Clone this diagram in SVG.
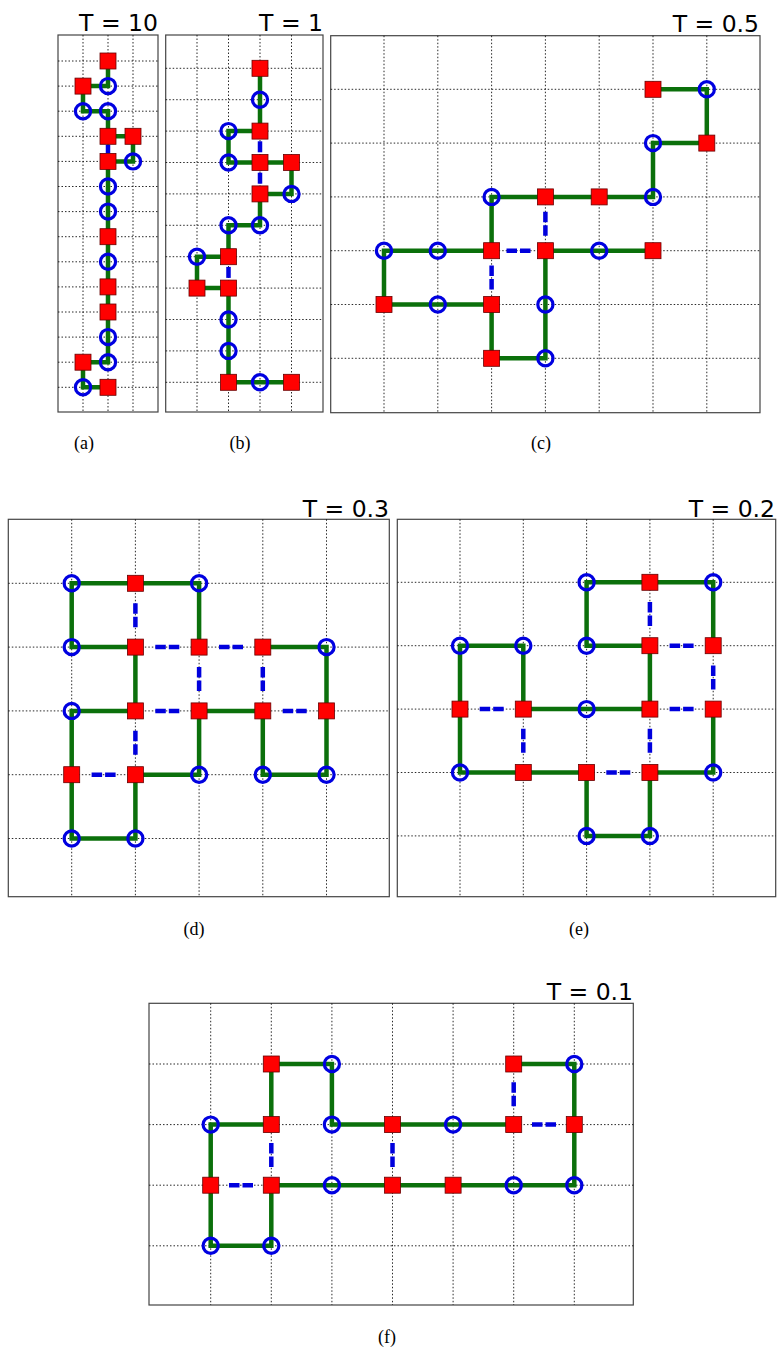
<svg xmlns="http://www.w3.org/2000/svg" width="780" height="1352" viewBox="0 0 780 1352">
<style>
.frame{fill:#fff;stroke:#444;stroke-width:1.2}
.grid{fill:none;stroke:#111;stroke-width:0.9;stroke-dasharray:1.5 2}
.chain{fill:none;stroke:#0b700b;stroke-width:4.5;stroke-linejoin:miter}
.contact{stroke:#0000dd;stroke-width:4.5;stroke-dasharray:10.5 3}
.cs{stroke:#0000dd;stroke-width:4.5}
.H{fill:#f00;stroke:#600;stroke-width:0.8}
.P{fill:none;stroke:#0000e0;stroke-width:3.2}
.tl{font-family:"DejaVu Sans",sans-serif;font-size:23.5px;text-anchor:end;fill:#000}
.sub{font-family:"Liberation Serif",serif;font-size:18px;text-anchor:middle;fill:#000}
</style>
<rect width="780" height="1352" fill="#fff"/>

<!-- Panel (a) -->
<g id="panel-a">
<rect class="frame" x="58" y="35" width="100" height="377"/>
<path class="grid" d="M83 35V412M108 35V412M133 35V412M58 61H158M58 86.1H158M58 111.2H158M58 136.3H158M58 161.4H158M58 186.5H158M58 211.6H158M58 236.7H158M58 261.8H158M58 286.9H158M58 312H158M58 337.1H158M58 362.2H158M58 387.3H158"/>
<text class="tl" x="158" y="31">T = 10</text>
<text class="sub" x="84" y="449">(a)</text>
<g id="a-connectors">
<polyline class="chain" points="108,61 108,86.1 83,86.1 83,111.2 108,111.2 108,136.3 133,136.3 133,161.4 108,161.4 108,186.5 108,211.6 108,236.7 108,261.8 108,286.9 108,312 108,337.1 108,362.2 83,362.2 83,387.3 108,387.3"/>
<line class="cs" x1="108" y1="144.6" x2="108" y2="153.1"/>
</g>
<g id="a-nodes">
<g id="a1"><rect class="H" x="100" y="53" width="16" height="16"/></g>
<g id="a2"><circle class="P" cx="108" cy="86.1" r="7.6"/></g>
<g id="a3"><rect class="H" x="75" y="78.1" width="16" height="16"/></g>
<g id="a4"><circle class="P" cx="83" cy="111.2" r="7.6"/></g>
<g id="a5"><circle class="P" cx="108" cy="111.2" r="7.6"/></g>
<g id="a6"><rect class="H" x="100" y="128.3" width="16" height="16"/></g>
<g id="a7"><rect class="H" x="125" y="128.3" width="16" height="16"/></g>
<g id="a8"><circle class="P" cx="133" cy="161.4" r="7.6"/></g>
<g id="a9"><rect class="H" x="100" y="153.4" width="16" height="16"/></g>
<g id="a10"><circle class="P" cx="108" cy="186.5" r="7.6"/></g>
<g id="a11"><circle class="P" cx="108" cy="211.6" r="7.6"/></g>
<g id="a12"><rect class="H" x="100" y="228.7" width="16" height="16"/></g>
<g id="a13"><circle class="P" cx="108" cy="261.8" r="7.6"/></g>
<g id="a14"><rect class="H" x="100" y="278.9" width="16" height="16"/></g>
<g id="a15"><rect class="H" x="100" y="304" width="16" height="16"/></g>
<g id="a16"><circle class="P" cx="108" cy="337.1" r="7.6"/></g>
<g id="a17"><circle class="P" cx="108" cy="362.2" r="7.6"/></g>
<g id="a18"><rect class="H" x="75" y="354.2" width="16" height="16"/></g>
<g id="a19"><circle class="P" cx="83" cy="387.3" r="7.6"/></g>
<g id="a20"><rect class="H" x="100" y="379.3" width="16" height="16"/></g>
</g>
</g>

<!-- Panel (b) -->
<g id="panel-b">
<rect class="frame" x="165.7" y="35" width="157.3" height="377"/>
<path class="grid" d="M197 35V412M228.5 35V412M260 35V412M291.5 35V412M165.7 68.3H323M165.7 99.7H323M165.7 131.1H323M165.7 162.5H323M165.7 193.9H323M165.7 225.3H323M165.7 256.7H323M165.7 288.1H323M165.7 319.5H323M165.7 350.9H323M165.7 382.3H323"/>
<text class="tl" x="323" y="31">T = 1</text>
<text class="sub" x="240" y="449">(b)</text>
<g id="b-connectors">
<polyline class="chain" points="260,68.3 260,99.7 260,131.1 228.5,131.1 228.5,162.5 260,162.5 291.5,162.5 291.5,193.9 260,193.9 260,225.3 228.5,225.3 228.5,256.7 197,256.7 197,288.1 228.5,288.1 228.5,319.5 228.5,350.9 228.5,382.3 260,382.3 291.5,382.3"/>
<line class="cs" x1="260" y1="141.3" x2="260" y2="152.3"/>
<line class="cs" x1="260" y1="172.7" x2="260" y2="183.7"/>
<line class="cs" x1="228.5" y1="266.9" x2="228.5" y2="277.9"/>
</g>
<g id="b-nodes">
<g id="b1"><rect class="H" x="252" y="60.3" width="16" height="16"/></g>
<g id="b2"><circle class="P" cx="260" cy="99.7" r="7.6"/></g>
<g id="b3"><rect class="H" x="252" y="123.1" width="16" height="16"/></g>
<g id="b4"><circle class="P" cx="228.5" cy="131.1" r="7.6"/></g>
<g id="b5"><circle class="P" cx="228.5" cy="162.5" r="7.6"/></g>
<g id="b6"><rect class="H" x="252" y="154.5" width="16" height="16"/></g>
<g id="b7"><rect class="H" x="283.5" y="154.5" width="16" height="16"/></g>
<g id="b8"><circle class="P" cx="291.5" cy="193.9" r="7.6"/></g>
<g id="b9"><rect class="H" x="252" y="185.9" width="16" height="16"/></g>
<g id="b10"><circle class="P" cx="260" cy="225.3" r="7.6"/></g>
<g id="b11"><circle class="P" cx="228.5" cy="225.3" r="7.6"/></g>
<g id="b12"><rect class="H" x="220.5" y="248.7" width="16" height="16"/></g>
<g id="b13"><circle class="P" cx="197" cy="256.7" r="7.6"/></g>
<g id="b14"><rect class="H" x="189" y="280.1" width="16" height="16"/></g>
<g id="b15"><rect class="H" x="220.5" y="280.1" width="16" height="16"/></g>
<g id="b16"><circle class="P" cx="228.5" cy="319.5" r="7.6"/></g>
<g id="b17"><circle class="P" cx="228.5" cy="350.9" r="7.6"/></g>
<g id="b18"><rect class="H" x="220.5" y="374.3" width="16" height="16"/></g>
<g id="b19"><circle class="P" cx="260" cy="382.3" r="7.6"/></g>
<g id="b20"><rect class="H" x="283.5" y="374.3" width="16" height="16"/></g>
</g>
</g>

<!-- Panel (c) -->
<g id="panel-c">
<rect class="frame" x="330.7" y="35.7" width="429.3" height="377"/>
<path class="grid" d="M384 35.7V412.7M437.8 35.7V412.7M491.6 35.7V412.7M545.4 35.7V412.7M599.2 35.7V412.7M653 35.7V412.7M706.8 35.7V412.7M330.7 89.3H760M330.7 143.1H760M330.7 196.9H760M330.7 250.7H760M330.7 304.5H760M330.7 358.3H760"/>
<text class="tl" x="759" y="32">T = 0.5</text>
<text class="sub" x="541" y="449">(c)</text>
<g id="c-connectors">
<polyline class="chain" points="653,89.3 706.8,89.3 706.8,143.1 653,143.1 653,196.9 599.2,196.9 545.4,196.9 491.6,196.9 491.6,250.7 437.8,250.7 384,250.7 384,304.5 437.8,304.5 491.6,304.5 491.6,358.3 545.4,358.3 545.4,304.5 545.4,250.7 599.2,250.7 653,250.7"/>
<line class="contact" x1="545.4" y1="211.8" x2="545.4" y2="235.8"/>
<line class="contact" x1="506.5" y1="250.7" x2="530.5" y2="250.7"/>
<line class="contact" x1="491.6" y1="265.6" x2="491.6" y2="289.6"/>
</g>
<g id="c-nodes">
<g id="c1"><rect class="H" x="645" y="81.3" width="16" height="16"/></g>
<g id="c2"><circle class="P" cx="706.8" cy="89.3" r="7.6"/></g>
<g id="c3"><rect class="H" x="698.8" y="135.1" width="16" height="16"/></g>
<g id="c4"><circle class="P" cx="653" cy="143.1" r="7.6"/></g>
<g id="c5"><circle class="P" cx="653" cy="196.9" r="7.6"/></g>
<g id="c6"><rect class="H" x="591.2" y="188.9" width="16" height="16"/></g>
<g id="c7"><rect class="H" x="537.4" y="188.9" width="16" height="16"/></g>
<g id="c8"><circle class="P" cx="491.6" cy="196.9" r="7.6"/></g>
<g id="c9"><rect class="H" x="483.6" y="242.7" width="16" height="16"/></g>
<g id="c10"><circle class="P" cx="437.8" cy="250.7" r="7.6"/></g>
<g id="c11"><circle class="P" cx="384" cy="250.7" r="7.6"/></g>
<g id="c12"><rect class="H" x="376" y="296.5" width="16" height="16"/></g>
<g id="c13"><circle class="P" cx="437.8" cy="304.5" r="7.6"/></g>
<g id="c14"><rect class="H" x="483.6" y="296.5" width="16" height="16"/></g>
<g id="c15"><rect class="H" x="483.6" y="350.3" width="16" height="16"/></g>
<g id="c16"><circle class="P" cx="545.4" cy="358.3" r="7.6"/></g>
<g id="c17"><circle class="P" cx="545.4" cy="304.5" r="7.6"/></g>
<g id="c18"><rect class="H" x="537.4" y="242.7" width="16" height="16"/></g>
<g id="c19"><circle class="P" cx="599.2" cy="250.7" r="7.6"/></g>
<g id="c20"><rect class="H" x="645" y="242.7" width="16" height="16"/></g>
</g>
</g>

<!-- Panel (d) -->
<g id="panel-d">
<rect class="frame" x="8.3" y="519.3" width="381" height="377.4"/>
<path class="grid" d="M71.7 519.3V896.7M135.4 519.3V896.7M199.1 519.3V896.7M262.8 519.3V896.7M326.5 519.3V896.7M8.3 583.3H389.3M8.3 647.1H389.3M8.3 710.9H389.3M8.3 774.7H389.3M8.3 838.5H389.3"/>
<text class="tl" x="389" y="516.5">T = 0.3</text>
<text class="sub" x="194" y="935">(d)</text>
<g id="d-connectors">
<polyline class="chain" points="199.1,647.1 199.1,583.3 135.4,583.3 71.7,583.3 71.7,647.1 135.4,647.1 135.4,710.9 71.7,710.9 71.7,774.7 71.7,838.5 135.4,838.5 135.4,774.7 199.1,774.7 199.1,710.9 262.8,710.9 262.8,774.7 326.5,774.7 326.5,710.9 326.5,647.1 262.8,647.1"/>
<line class="contact" x1="135.4" y1="603.2" x2="135.4" y2="627.2"/>
<line class="contact" x1="155.3" y1="647.1" x2="179.3" y2="647.1"/>
<line class="contact" x1="219" y1="647.1" x2="243" y2="647.1"/>
<line class="contact" x1="199.1" y1="667" x2="199.1" y2="691"/>
<line class="contact" x1="262.8" y1="667" x2="262.8" y2="691"/>
<line class="contact" x1="155.3" y1="710.9" x2="179.3" y2="710.9"/>
<line class="contact" x1="282.7" y1="710.9" x2="306.7" y2="710.9"/>
<line class="contact" x1="135.4" y1="730.8" x2="135.4" y2="754.8"/>
<line class="contact" x1="91.6" y1="774.7" x2="115.6" y2="774.7"/>
</g>
<g id="d-nodes">
<g id="d1"><rect class="H" x="191.1" y="639.1" width="16" height="16"/></g>
<g id="d2"><circle class="P" cx="199.1" cy="583.3" r="7.6"/></g>
<g id="d3"><rect class="H" x="127.4" y="575.3" width="16" height="16"/></g>
<g id="d4"><circle class="P" cx="71.7" cy="583.3" r="7.6"/></g>
<g id="d5"><circle class="P" cx="71.7" cy="647.1" r="7.6"/></g>
<g id="d6"><rect class="H" x="127.4" y="639.1" width="16" height="16"/></g>
<g id="d7"><rect class="H" x="127.4" y="702.9" width="16" height="16"/></g>
<g id="d8"><circle class="P" cx="71.7" cy="710.9" r="7.6"/></g>
<g id="d9"><rect class="H" x="63.7" y="766.7" width="16" height="16"/></g>
<g id="d10"><circle class="P" cx="71.7" cy="838.5" r="7.6"/></g>
<g id="d11"><circle class="P" cx="135.4" cy="838.5" r="7.6"/></g>
<g id="d12"><rect class="H" x="127.4" y="766.7" width="16" height="16"/></g>
<g id="d13"><circle class="P" cx="199.1" cy="774.7" r="7.6"/></g>
<g id="d14"><rect class="H" x="191.1" y="702.9" width="16" height="16"/></g>
<g id="d15"><rect class="H" x="254.8" y="702.9" width="16" height="16"/></g>
<g id="d16"><circle class="P" cx="262.8" cy="774.7" r="7.6"/></g>
<g id="d17"><circle class="P" cx="326.5" cy="774.7" r="7.6"/></g>
<g id="d18"><rect class="H" x="318.5" y="702.9" width="16" height="16"/></g>
<g id="d19"><circle class="P" cx="326.5" cy="647.1" r="7.6"/></g>
<g id="d20"><rect class="H" x="254.8" y="639.1" width="16" height="16"/></g>
</g>
</g>

<!-- Panel (e) -->
<g id="panel-e">
<rect class="frame" x="397.3" y="519.3" width="378.4" height="377.4"/>
<path class="grid" d="M460 519.3V896.7M523.3 519.3V896.7M586.6 519.3V896.7M649.9 519.3V896.7M713.2 519.3V896.7M397.3 582.3H775.7M397.3 645.7H775.7M397.3 709.1H775.7M397.3 772.5H775.7M397.3 835.9H775.7"/>
<text class="tl" x="775" y="516.5">T = 0.2</text>
<text class="sub" x="579" y="935">(e)</text>
<g id="e-connectors">
<polyline class="chain" points="713.2,645.7 713.2,582.3 649.9,582.3 586.6,582.3 586.6,645.7 649.9,645.7 649.9,709.1 586.6,709.1 523.3,709.1 523.3,645.7 460,645.7 460,709.1 460,772.5 523.3,772.5 586.6,772.5 586.6,835.9 649.9,835.9 649.9,772.5 713.2,772.5 713.2,709.1"/>
<line class="contact" x1="649.9" y1="602" x2="649.9" y2="626"/>
<line class="contact" x1="669.6" y1="645.7" x2="693.6" y2="645.7"/>
<line class="contact" x1="713.2" y1="665.4" x2="713.2" y2="689.4"/>
<line class="contact" x1="479.7" y1="709.1" x2="503.7" y2="709.1"/>
<line class="contact" x1="669.6" y1="709.1" x2="693.6" y2="709.1"/>
<line class="contact" x1="523.3" y1="728.8" x2="523.3" y2="752.8"/>
<line class="contact" x1="649.9" y1="728.8" x2="649.9" y2="752.8"/>
<line class="contact" x1="606.3" y1="772.5" x2="630.3" y2="772.5"/>
</g>
<g id="e-nodes">
<g id="e1"><rect class="H" x="705.2" y="637.7" width="16" height="16"/></g>
<g id="e2"><circle class="P" cx="713.2" cy="582.3" r="7.6"/></g>
<g id="e3"><rect class="H" x="641.9" y="574.3" width="16" height="16"/></g>
<g id="e4"><circle class="P" cx="586.6" cy="582.3" r="7.6"/></g>
<g id="e5"><circle class="P" cx="586.6" cy="645.7" r="7.6"/></g>
<g id="e6"><rect class="H" x="641.9" y="637.7" width="16" height="16"/></g>
<g id="e7"><rect class="H" x="641.9" y="701.1" width="16" height="16"/></g>
<g id="e8"><circle class="P" cx="586.6" cy="709.1" r="7.6"/></g>
<g id="e9"><rect class="H" x="515.3" y="701.1" width="16" height="16"/></g>
<g id="e10"><circle class="P" cx="523.3" cy="645.7" r="7.6"/></g>
<g id="e11"><circle class="P" cx="460" cy="645.7" r="7.6"/></g>
<g id="e12"><rect class="H" x="452" y="701.1" width="16" height="16"/></g>
<g id="e13"><circle class="P" cx="460" cy="772.5" r="7.6"/></g>
<g id="e14"><rect class="H" x="515.3" y="764.5" width="16" height="16"/></g>
<g id="e15"><rect class="H" x="578.6" y="764.5" width="16" height="16"/></g>
<g id="e16"><circle class="P" cx="586.6" cy="835.9" r="7.6"/></g>
<g id="e17"><circle class="P" cx="649.9" cy="835.9" r="7.6"/></g>
<g id="e18"><rect class="H" x="641.9" y="764.5" width="16" height="16"/></g>
<g id="e19"><circle class="P" cx="713.2" cy="772.5" r="7.6"/></g>
<g id="e20"><rect class="H" x="705.2" y="701.1" width="16" height="16"/></g>
</g>
</g>

<!-- Panel (f) -->
<g id="panel-f">
<rect class="frame" x="149" y="1003.3" width="484.3" height="301.7"/>
<path class="grid" d="M210.7 1003.3V1305M271.3 1003.3V1305M331.9 1003.3V1305M392.5 1003.3V1305M453.1 1003.3V1305M513.7 1003.3V1305M574.3 1003.3V1305M149 1064H633.3M149 1124.6H633.3M149 1185.2H633.3M149 1245.8H633.3"/>
<text class="tl" x="633" y="1000">T = 0.1</text>
<text class="sub" x="387" y="1343">(f)</text>
<g id="f-connectors">
<polyline class="chain" points="513.7,1064 574.3,1064 574.3,1124.6 574.3,1185.2 513.7,1185.2 453.1,1185.2 392.5,1185.2 331.9,1185.2 271.3,1185.2 271.3,1245.8 210.7,1245.8 210.7,1185.2 210.7,1124.6 271.3,1124.6 271.3,1064 331.9,1064 331.9,1124.6 392.5,1124.6 453.1,1124.6 513.7,1124.6"/>
<line class="contact" x1="513.7" y1="1082.3" x2="513.7" y2="1106.3"/>
<line class="contact" x1="532" y1="1124.6" x2="556" y2="1124.6"/>
<line class="contact" x1="271.3" y1="1142.9" x2="271.3" y2="1166.9"/>
<line class="contact" x1="392.5" y1="1142.9" x2="392.5" y2="1166.9"/>
<line class="contact" x1="229" y1="1185.2" x2="253" y2="1185.2"/>
</g>
<g id="f-nodes">
<g id="f1"><rect class="H" x="505.7" y="1056" width="16" height="16"/></g>
<g id="f2"><circle class="P" cx="574.3" cy="1064" r="7.6"/></g>
<g id="f3"><rect class="H" x="566.3" y="1116.6" width="16" height="16"/></g>
<g id="f4"><circle class="P" cx="574.3" cy="1185.2" r="7.6"/></g>
<g id="f5"><circle class="P" cx="513.7" cy="1185.2" r="7.6"/></g>
<g id="f6"><rect class="H" x="445.1" y="1177.2" width="16" height="16"/></g>
<g id="f7"><rect class="H" x="384.5" y="1177.2" width="16" height="16"/></g>
<g id="f8"><circle class="P" cx="331.9" cy="1185.2" r="7.6"/></g>
<g id="f9"><rect class="H" x="263.3" y="1177.2" width="16" height="16"/></g>
<g id="f10"><circle class="P" cx="271.3" cy="1245.8" r="7.6"/></g>
<g id="f11"><circle class="P" cx="210.7" cy="1245.8" r="7.6"/></g>
<g id="f12"><rect class="H" x="202.7" y="1177.2" width="16" height="16"/></g>
<g id="f13"><circle class="P" cx="210.7" cy="1124.6" r="7.6"/></g>
<g id="f14"><rect class="H" x="263.3" y="1116.6" width="16" height="16"/></g>
<g id="f15"><rect class="H" x="263.3" y="1056" width="16" height="16"/></g>
<g id="f16"><circle class="P" cx="331.9" cy="1064" r="7.6"/></g>
<g id="f17"><circle class="P" cx="331.9" cy="1124.6" r="7.6"/></g>
<g id="f18"><rect class="H" x="384.5" y="1116.6" width="16" height="16"/></g>
<g id="f19"><circle class="P" cx="453.1" cy="1124.6" r="7.6"/></g>
<g id="f20"><rect class="H" x="505.7" y="1116.6" width="16" height="16"/></g>
</g>
</g>
</svg>
